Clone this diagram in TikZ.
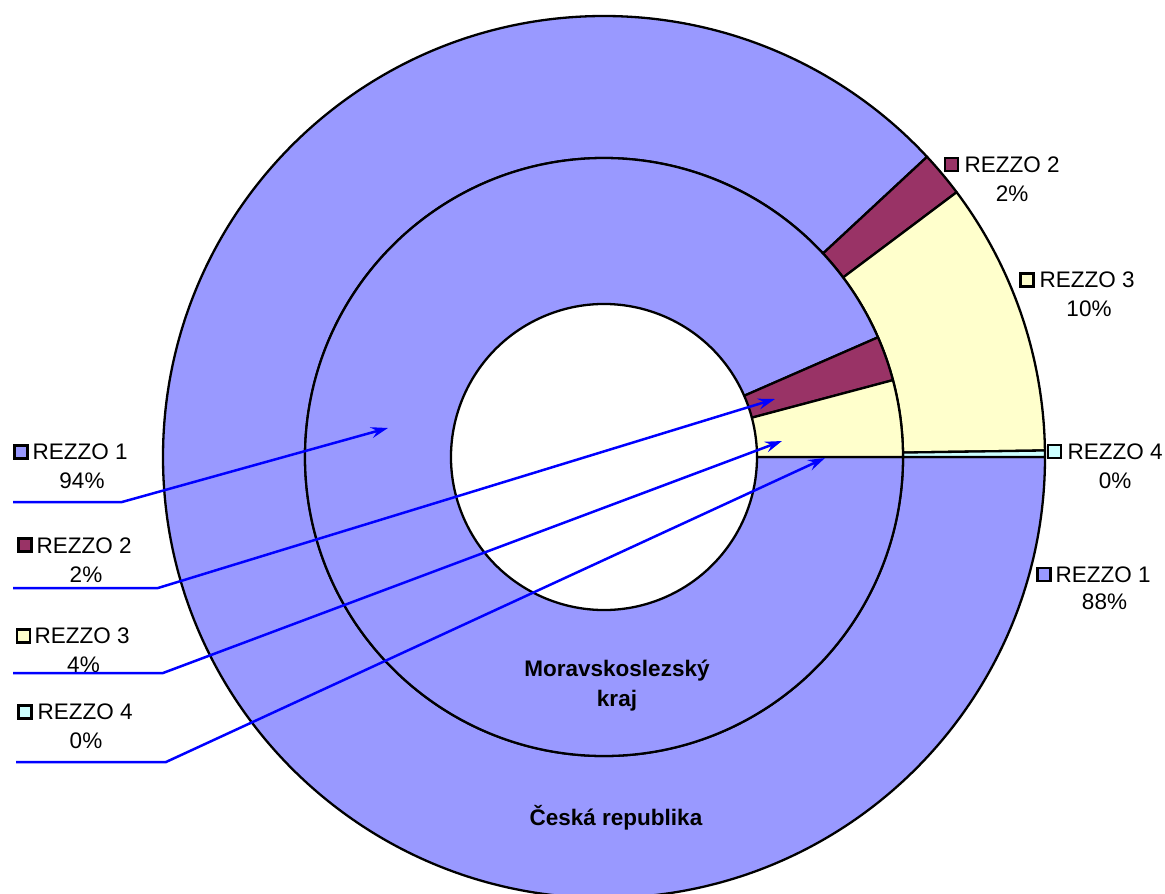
\documentclass[tikz,border=0pt]{standalone}
\usepackage{fontspec}
\setmainfont{Liberation Sans}
\usetikzlibrary{arrows.meta}
\definecolor{rzone}{HTML}{9999FF}
\definecolor{rztwo}{HTML}{993366}
\definecolor{rzthree}{HTML}{FFFFCC}
\definecolor{rzfour}{HTML}{CCFFFF}
\definecolor{leadblue}{HTML}{0000FF}
\newcommand\ringsector[5]{\draw[seg,fill=#1] (#2:#4) arc[start angle=#2,end angle=#3,radius=#4] -- (#3:#5) arc[start angle=#3,end angle=#2,radius=#5] -- cycle;}
\begin{document}
\begin{tikzpicture}[x=1pt,y=1pt,
 seg/.style={draw=black,line width=2.3pt,line join=round},
 swatch/.style={draw=black,line width=2.8pt,minimum size=13pt,inner sep=0pt},
 lbl/.style={anchor=base west,inner sep=0pt,font=\fontsize{22.5}{26}\selectfont},
 pct/.style={anchor=base,inner sep=0pt,font=\fontsize{22.5}{26}\selectfont},
 leader/.style={draw=leadblue,line width=2.5pt,-{Stealth[length=17pt,width=11pt,inset=6pt]}},
 ringname/.style={align=center,inner sep=0pt,font=\bfseries\fontsize{22.5}{30}\selectfont}]
\useasboundingbox (0,0) rectangle (1165,-894);
\clip (0,0) rectangle (1165,-894);
\fill[white] (0,0) rectangle (1165,-894);
\begin{scope}[shift={(604,-457)}]
 % outer ring: Ceska republika
 \ringsector{rzone}{42.9}{360}{299}{441}
 \ringsector{rztwo}{36.9}{42.9}{299}{441}
 \ringsector{rzthree}{0.85}{36.9}{299}{441}
 \ringsector{rzfour}{0}{0.85}{299}{441}
 % inner ring: Moravskoslezsky kraj
 \ringsector{rzone}{23.6}{360}{153}{299}
 \ringsector{rztwo}{14.9}{23.6}{153}{299}
 \ringsector{rzthree}{0}{14.9}{153}{299}
\end{scope}
% ring names
\node[ringname] (msk) at (617,-686) {Moravskoslezský\\kraj};
\node[ringname,anchor=base] (cr) at (616,-825) {Česká republika};
% left labels
\node[swatch,fill=rzone] (sw1L) at (21,-452) {};
\node[lbl] (t1L) at (32.5,-459) {REZZO 1};
\node[pct] (p1L) at (82,-488) {94\%};
\node[swatch,fill=rztwo] (sw2L) at (25,-545) {};
\node[lbl] (t2L) at (36.5,-553) {REZZO 2};
\node[pct] (p2L) at (86,-582) {2\%};
\node[swatch,fill=rzthree] (sw3L) at (23.5,-636) {};
\node[lbl] (t3L) at (34.5,-643) {REZZO 3};
\node[pct] (p3L) at (83.5,-672) {4\%};
\node[swatch,fill=rzfour] (sw4L) at (25,-712) {};
\node[lbl] (t4L) at (37.5,-719) {REZZO 4};
\node[pct] (p4L) at (86,-748) {0\%};
% right labels
\node[swatch,fill=rztwo] (sw2R) at (951.5,-164.5) {};
\node[lbl] (t2R) at (964.5,-172) {REZZO 2};
\node[pct] (p2R) at (1012,-201) {2\%};
\node[swatch,fill=rzthree] (sw3R) at (1027,-280) {};
\node[lbl] (t3R) at (1039.5,-287) {REZZO 3};
\node[pct] (p3R) at (1089,-316) {10\%};
\node[swatch,fill=rzfour] (sw4R) at (1054.5,-451.5) {};
\node[lbl] (t4R) at (1067.5,-459) {REZZO 4};
\node[pct] (p4R) at (1115,-488) {0\%};
\node[swatch,fill=rzone] (sw1R) at (1044,-574.5) {};
\node[lbl] (t1R) at (1055.5,-582) {REZZO 1};
\node[pct] (p1R) at (1104.5,-609) {88\%};
% leader lines
\coordinate (l1s) at (13,-502); \coordinate (l1b) at (122,-502); \coordinate (l1t) at (388,-428);
\coordinate (l2s) at (13,-588); \coordinate (l2b) at (158,-588); \coordinate (l2t) at (775,-399);
\coordinate (l3s) at (13,-673); \coordinate (l3b) at (163,-673); \coordinate (l3t) at (782,-441);
\coordinate (l4s) at (16,-762); \coordinate (l4b) at (166,-762); \coordinate (l4t) at (825,-458);
\draw[leader] (l1s) -- (l1b) -- (l1t);
\draw[leader] (l2s) -- (l2b) -- (l2t);
\draw[leader] (l3s) -- (l3b) -- (l3t);
\draw[leader] (l4s) -- (l4b) -- (l4t);
\end{tikzpicture}
\end{document}
